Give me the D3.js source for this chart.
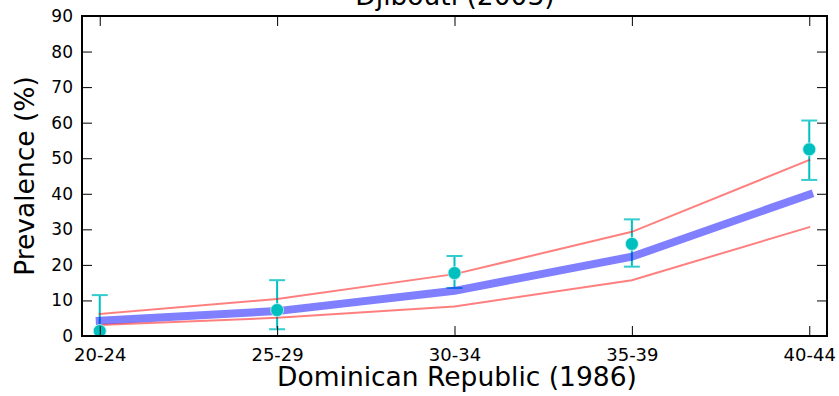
<!DOCTYPE html>
<html><head><meta charset="utf-8">
<script src="https://cdn.jsdelivr.net/npm/d3@7"></script>
<style>body{margin:0;background:#fff;} svg{display:block;font-family:"DejaVu Sans",sans-serif;}</style>
</head><body>
<svg id="c" width="839" height="396"></svg>
<script>
const categories = ["20-24","25-29","30-34","35-39","40-44"];
const observed   = [1.4, 7.3, 17.7, 25.9, 52.5];
const obsLower   = [-3, 1.9, 13.5, 19.5, 43.9];
const obsUpper   = [11.5, 15.7, 22.5, 32.8, 60.6];
const modelMid   = [4.3, 7.0, 12.7, 22.3, 39.8];
const modelLow   = [3.1, 5.1, 8.3, 15.7, 30.6];
const modelHigh  = [6.2, 10.4, 17.4, 29.3, 49.5];
const yTicks     = [0,10,20,30,40,50,60,70,80,90];
const title      = "Djibouti (2003)";
const nextTitle  = "Dominican Republic (1986)";
const yLabel     = "Prevalence (%)";

const svg = d3.select("#c");
const L=82, R=827, T=16, B=336;
const x = d3.scaleLinear().domain([-0.1, 4.1]).range([L, R]);
const y = d3.scaleLinear().domain([0, 90]).range([B, T]);
const idx = categories.map((d,i)=>i);

svg.append("defs").append("clipPath").attr("id","clip")
  .append("rect").attr("x",L).attr("y",T).attr("width",R-L).attr("height",B-T);
const g = svg.append("g").attr("clip-path","url(#clip)");

// error bars
const eb = g.append("g");
idx.forEach(i=>{
  eb.append("line").attr("x1",x(i)).attr("x2",x(i)).attr("y1",y(obsLower[i])).attr("y2",y(obsUpper[i]))
    .attr("stroke","#00BFBF").attr("stroke-width",2);
  [obsLower[i], obsUpper[i]].forEach(v=>{
    eb.append("line").attr("x1",x(i)-8).attr("x2",x(i)+8).attr("y1",y(v)).attr("y2",y(v))
      .attr("stroke","#33CCCC").attr("stroke-width",2);
  });
});

const line = arr => d3.line().x((d,i)=>x(i)).y(d=>y(d))(arr);
g.append("path").attr("d",line(modelMid)).attr("fill","none").attr("stroke","blue").attr("stroke-opacity",0.5)
  .attr("stroke-width",8).attr("stroke-linecap","square");
g.append("path").attr("d",line(modelLow)).attr("fill","none").attr("stroke","red").attr("stroke-opacity",0.5)
  .attr("stroke-width",2).attr("stroke-linecap","square");
g.append("path").attr("d",line(modelHigh)).attr("fill","none").attr("stroke","red").attr("stroke-opacity",0.5)
  .attr("stroke-width",2).attr("stroke-linecap","square");

g.selectAll("circle.pt").data(observed).enter().append("circle")
  .attr("cx",(d,i)=>x(i)).attr("cy",d=>y(d)).attr("r",6.5)
  .attr("fill","#00BFBF").attr("stroke","#CCF2F2").attr("stroke-width",0.8);

// axes
const tickLen = 10;
const axL = d3.axisLeft(y).tickValues(yTicks).tickSizeInner(-tickLen).tickSizeOuter(0).tickPadding(9);
const axR = d3.axisRight(y).tickValues(yTicks).tickSizeInner(-tickLen).tickSizeOuter(0).tickFormat("");
const axB = d3.axisBottom(x).tickValues(idx).tickFormat(i=>categories[i]).tickSizeInner(-tickLen).tickSizeOuter(0).tickPadding(12);
const axT = d3.axisTop(x).tickValues(idx).tickSizeInner(-tickLen).tickSizeOuter(0).tickFormat("");

function style(sel, fs){
  sel.select(".domain").remove();
  sel.selectAll(".tick line").attr("stroke","#000").attr("stroke-width",1);
  sel.selectAll(".tick text").attr("font-size",fs).attr("fill","#000").attr("font-family","DejaVu Sans");
}
svg.append("g").attr("transform",`translate(${L},0)`).call(axL).call(style,17);
svg.append("g").attr("transform",`translate(${R},0)`).call(axR).call(style,17);
svg.append("g").attr("transform",`translate(0,${B})`).call(axB).call(style,18);
svg.append("g").attr("transform",`translate(0,${T})`).call(axT).call(style,18);

svg.append("rect").attr("x",L).attr("y",T).attr("width",R-L).attr("height",B-T)
  .attr("fill","none").attr("stroke","#000").attr("stroke-width",2);

svg.append("text").attr("x",455).attr("y",5).attr("text-anchor","middle")
  .attr("font-size",26.5).text(title);
svg.append("text").attr("x",457).attr("y",386).attr("text-anchor","middle")
  .attr("font-size",26.5).text(nextTitle);
svg.append("text").attr("transform",`translate(34,${(T+B)/2}) rotate(-90)`).attr("text-anchor","middle")
  .attr("font-size",26.5).text(yLabel);
svg.append("text").attr("x",73).attr("y",409).attr("text-anchor","end").attr("font-size",17).text("90");
</script>
</body></html>
